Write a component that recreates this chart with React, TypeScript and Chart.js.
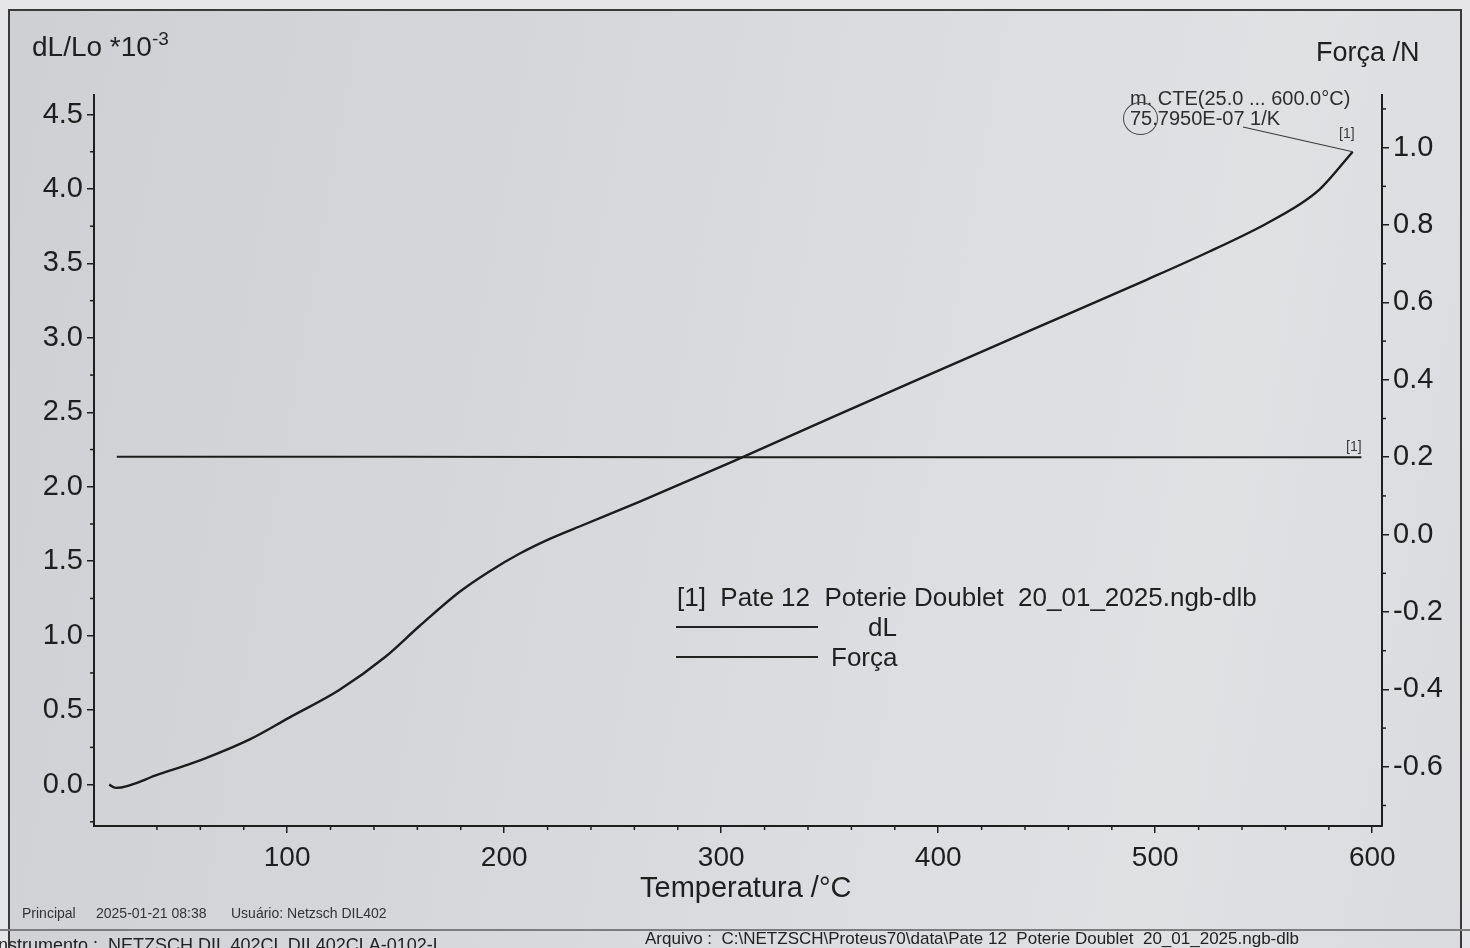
import React, { useEffect, useRef } from 'react';
import { Chart, registerables } from 'chart.js';

Chart.register(...registerables);

// ---- data ----
const DL_TEMP = [18, 21, 41, 62, 83, 101, 124, 145, 161, 179.5, 193, 207, 221, 235, 262.5, 305.5, 350, 389, 442.5, 496, 525, 549, 567, 576, 591];
const DL_VALUE = [0.0, -0.022, 0.07, 0.175, 0.305, 0.45, 0.635, 0.855, 1.065, 1.295, 1.43, 1.55, 1.65, 1.735, 1.9, 2.17, 2.46, 2.71, 3.05, 3.39, 3.58, 3.75, 3.9, 4.0, 4.25];

const FORCE_TEMP = [21.5, 150, 300, 450, 595];
const FORCE_VALUE = [0.201, 0.201, 0.2, 0.2, 0.2];

const X_TICKS = [100, 200, 300, 400, 500, 600];
const X_MINOR = [40, 60, 80, 120, 140, 160, 180, 220, 240, 260, 280, 320, 340, 360, 380, 420, 440, 460, 480, 520, 540, 560, 580];
const LEFT_TICKS = [0, 0.5, 1, 1.5, 2, 2.5, 3, 3.5, 4, 4.5];
const LEFT_MINOR = [-0.25, 0.25, 0.75, 1.25, 1.75, 2.25, 2.75, 3.25, 3.75, 4.25];
const RIGHT_TICKS = [-0.6, -0.4, -0.2, 0, 0.2, 0.4, 0.6, 0.8, 1.0];
const RIGHT_MINOR = [-0.7, -0.5, -0.3, -0.1, 0.1, 0.3, 0.5, 0.7, 0.9, 1.1];

const X_MIN = 11;
const X_MAX = 604.5;
const L_MIN = -0.278;
const L_MAX = 4.631;
const R_MIN = -0.753;
const R_MAX = 1.136;

const AXIS = '#1e1e1e';
const INK = '#1c1c1c';
const FONT = "'Liberation Sans', Arial, Helvetica, sans-serif";

const minorTicks = {
  id: 'minorTicks',
  afterDraw(chart: any) {
    const ctx = chart.ctx;
    const x = chart.scales.x;
    const yL = chart.scales.yL;
    const yR = chart.scales.yR;
    ctx.save();
    ctx.strokeStyle = AXIS;
    ctx.lineWidth = 1.5;
    X_MINOR.forEach((v) => {
      const px = x.getPixelForValue(v);
      ctx.beginPath();
      ctx.moveTo(px, x.top);
      ctx.lineTo(px, x.top + 4);
      ctx.stroke();
    });
    LEFT_MINOR.forEach((v) => {
      const py = yL.getPixelForValue(v);
      ctx.beginPath();
      ctx.moveTo(yL.right, py);
      ctx.lineTo(yL.right - 4, py);
      ctx.stroke();
    });
    RIGHT_MINOR.forEach((v) => {
      const py = yR.getPixelForValue(v);
      ctx.beginPath();
      ctx.moveTo(yR.left, py);
      ctx.lineTo(yR.left + 4, py);
      ctx.stroke();
    });
    // leader line from the CTE note to the end of the dL curve
    const meta = chart.getDatasetMeta(0);
    const last = meta.data[meta.data.length - 1];
    if (last) {
      ctx.strokeStyle = '#3a3a3a';
      ctx.lineWidth = 1.2;
      ctx.beginPath();
      ctx.moveTo(1243, 127);
      ctx.lineTo(last.x, last.y);
      ctx.stroke();
    }
    ctx.restore();
  },
};

const abs = (left: number, top: number, size: number, extra: React.CSSProperties = {}): React.CSSProperties => ({
  position: 'absolute',
  left,
  top,
  fontSize: size,
  lineHeight: 1,
  whiteSpace: 'pre',
  ...extra,
});

export default function App() {
  const ref = useRef<HTMLCanvasElement>(null);

  useEffect(() => {
    if (!ref.current) return;
    Chart.defaults.font.family = FONT;
    const chart = new Chart(ref.current, {
      type: 'line',
      data: {
        datasets: [
          {
            label: 'dL',
            data: DL_TEMP.map((t, i) => ({ x: t, y: DL_VALUE[i] })),
            yAxisID: 'yL',
            borderColor: INK,
            borderWidth: 2.4,
            pointRadius: 0,
            cubicInterpolationMode: 'monotone',
            fill: false,
          },
          {
            label: 'Força',
            data: FORCE_TEMP.map((t, i) => ({ x: t, y: FORCE_VALUE[i] })),
            yAxisID: 'yR',
            borderColor: INK,
            borderWidth: 2,
            pointRadius: 0,
            tension: 0,
            fill: false,
          },
        ],
      },
      options: {
        animation: false,
        responsive: true,
        maintainAspectRatio: false,
        layout: { padding: { top: 95, bottom: 62, left: 0, right: 0 } },
        plugins: {
          legend: { display: false },
          tooltip: { enabled: false },
          title: { display: false },
        },
        scales: {
          x: {
            type: 'linear',
            min: X_MIN,
            max: X_MAX,
            afterFit: (s: any) => {
              s.height = 60;
            },
            afterBuildTicks: (s: any) => {
              s.ticks = X_TICKS.map((v) => ({ value: v }));
            },
            grid: { drawOnChartArea: false, drawTicks: true, tickLength: 7, color: AXIS, lineWidth: 1.5 },
            border: { display: true, color: AXIS, width: 2 },
            ticks: {
              color: AXIS,
              font: { size: 28, family: FONT },
              padding: 8,
              maxRotation: 0,
              autoSkip: false,
              callback: (v: any) => String(v),
            },
          },
          yL: {
            type: 'linear',
            position: 'left',
            min: L_MIN,
            max: L_MAX,
            afterFit: (s: any) => {
              s.width = 94;
            },
            afterBuildTicks: (s: any) => {
              s.ticks = LEFT_TICKS.map((v) => ({ value: v }));
            },
            grid: { drawOnChartArea: false, drawTicks: true, tickLength: 7, color: AXIS, lineWidth: 1.5 },
            border: { display: true, color: AXIS, width: 2 },
            ticks: {
              color: AXIS,
              font: { size: 29, family: FONT },
              padding: 4,
              autoSkip: false,
              callback: (v: any) => Number(v).toFixed(1),
            },
          },
          yR: {
            type: 'linear',
            position: 'right',
            min: R_MIN,
            max: R_MAX,
            afterFit: (s: any) => {
              s.width = 88;
            },
            afterBuildTicks: (s: any) => {
              s.ticks = RIGHT_TICKS.map((v) => ({ value: v }));
            },
            grid: { drawOnChartArea: false, drawTicks: true, tickLength: 7, color: AXIS, lineWidth: 1.5 },
            border: { display: true, color: AXIS, width: 2 },
            ticks: {
              color: AXIS,
              font: { size: 29, family: FONT },
              padding: 4,
              autoSkip: false,
              callback: (v: any) => Number(v).toFixed(1),
            },
          },
        },
      },
      plugins: [minorTicks],
    } as any);
    return () => chart.destroy();
  }, []);

  return (
    <div
      style={{
        position: 'fixed',
        left: 0,
        top: 0,
        width: 1470,
        height: 948,
        overflow: 'hidden',
        background: '#e6e6e8',
        fontFamily: FONT,
        color: '#1f1f1f',
      }}
    >
      {/* paper */}
      <div
        style={{
          position: 'absolute',
          left: 8,
          top: 9,
          width: 1454,
          height: 960,
          boxSizing: 'border-box',
          borderTop: '2px solid #3a3a3a',
          borderLeft: '2px solid #3a3a3a',
          borderRight: '2px solid #3a3a3a',
          background:
            'linear-gradient(100deg, #cfd0d4 0%, #d5d6d9 30%, #dcdde0 60%, #e0e1e3 80%, #dadbde 100%)',
        }}
      />
      {/* separator of the footer */}
      <div style={{ position: 'absolute', left: 0, top: 929, width: 1470, height: 0, borderTop: '2px solid #7d7d80' }} />

      <div style={{ position: 'absolute', left: 0, top: 0, width: 1470, height: 948 }}>
        <canvas ref={ref} />
      </div>

      {/* axis titles */}
      <div style={abs(32, 33, 28)}>
        dL/Lo *10<span style={{ fontSize: 19, position: 'relative', top: -11 }}>-3</span>
      </div>
      <div style={abs(1316, 39, 27)}>Força /N</div>
      <div style={abs(640, 873, 29)}>Temperatura /°C</div>

      {/* CTE note */}
      <div style={abs(1130, 88, 20, { color: '#2e2e2e' })}>m. CTE(25.0 ... 600.0°C)</div>
      <div style={abs(1130, 108, 20, { color: '#2e2e2e' })}>75.7950E-07 1/K</div>
      <div
        style={{
          position: 'absolute',
          left: 1123,
          top: 102,
          width: 35,
          height: 33,
          borderRadius: '50%',
          border: '1.5px solid #444',
          boxSizing: 'border-box',
        }}
      />
      <div style={abs(1339, 126, 14, { color: '#3a3a3a' })}>[1]</div>
      <div style={abs(1346, 439, 14, { color: '#3a3a3a' })}>[1]</div>

      {/* legend */}
      <div style={abs(677, 584, 26)}>[1]  Pate 12  Poterie Doublet  20_01_2025.ngb-dlb</div>
      <div style={{ position: 'absolute', left: 676, top: 626, width: 142, height: 0, borderTop: '2px solid #222' }} />
      <div style={abs(868, 614, 26)}>dL</div>
      <div style={{ position: 'absolute', left: 676, top: 656, width: 142, height: 0, borderTop: '2px solid #222' }} />
      <div style={abs(831, 644, 26)}>Força</div>

      {/* footer */}
      <div style={abs(22, 906, 14, { color: '#333' })}>Principal</div>
      <div style={abs(96, 906, 14, { color: '#333' })}>2025-01-21 08:38</div>
      <div style={abs(231, 906, 14, { color: '#333' })}>Usuário: Netzsch DIL402</div>
      <div style={abs(-7, 936, 18, { color: '#222' })}>Instrumento :  NETZSCH DIL 402CL DIL402CLA-0102-L</div>
      <div style={abs(645, 930, 17, { color: '#222' })}>Arquivo :  C:\NETZSCH\Proteus70\data\Pate 12  Poterie Doublet  20_01_2025.ngb-dlb</div>
    </div>
  );
}
